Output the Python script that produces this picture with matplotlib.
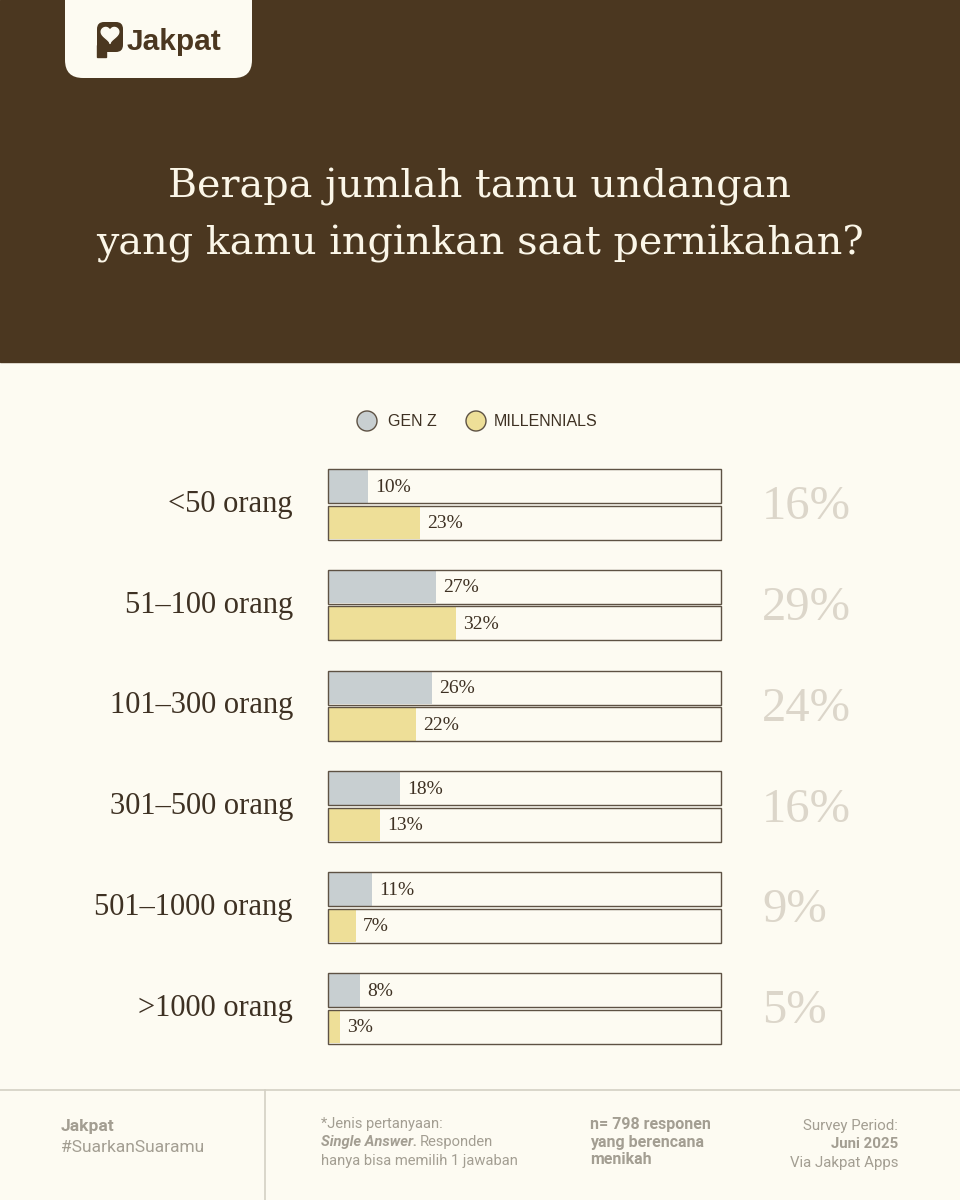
import matplotlib.pyplot as plt
from matplotlib.patches import FancyBboxPatch, Circle, Rectangle
import numpy as np

categories = ["<50 orang", "51\u2013100 orang", "101\u2013300 orang",
              "301\u2013500 orang", "501\u20131000 orang", ">1000 orang"]
gen_z = [10, 27, 26, 18, 11, 8]
millennials = [23, 32, 22, 13, 7, 3]
total = [16, 29, 24, 16, 9, 5]

BROWN = "#4B3720"
BG = "#FDFBF2"
GENZ_C = "#C8CFD1"
MIL_C = "#EEDF98"
EDGE = "#5E5244"
DARK = "#3E3123"
GREY_BIG = "#DCD6CA"
FOOT = "#A39E92"

SERIF = ["Liberation Serif", "DejaVu Serif"]
SANS = ["Liberation Sans", "DejaVu Sans"]
NARROW = ["Roboto", "DejaVu Sans"]

fig = plt.figure(figsize=(9.6, 12), dpi=100)
fig.patch.set_facecolor(BG)

# overlay axes in pixel coordinates
ov = fig.add_axes([0, 0, 1, 1])
ov.set_xlim(0, 960)
ov.set_ylim(1200, 0)
ov.axis("off")

# header
ov.add_patch(Rectangle((0, 0), 960, 362, color=BROWN, zorder=0))
ov.add_patch(FancyBboxPatch((65, -40), 187, 118, boxstyle="round,pad=0,rounding_size=18",
                            fc=BG, ec="none", zorder=1))
# logo icon
ov.add_patch(FancyBboxPatch((97, 22), 26, 30, boxstyle="round,pad=0,rounding_size=7",
                            fc=BROWN, ec="none", zorder=2))
ov.add_patch(Rectangle((97, 45), 9, 12, color=BROWN, zorder=2))
t = np.linspace(0, 2 * np.pi, 100)
hx = 110 + 0.55 * 16 * np.sin(t) ** 3
hy = 34 - 0.55 * (13 * np.cos(t) - 5 * np.cos(2 * t) - 2 * np.cos(3 * t) - np.cos(4 * t))
ov.fill(hx, hy, color=BG, zorder=3)
ov.text(127, 42, "Jakpat", fontsize=21.5, fontweight="bold", color=BROWN,
        family=SANS, va="center", ha="left", zorder=3)

ov.text(480, 187, "Berapa jumlah tamu undangan", fontsize=28.5, color="#FBF6E8",
        family=["DejaVu Serif"], ha="center", va="center")
ov.text(480, 244, "yang kamu inginkan saat pernikahan?", fontsize=28.5, color="#FBF6E8",
        family=["DejaVu Serif"], ha="center", va="center")

# legend
ov.add_patch(Circle((367, 421), 10, fc=GENZ_C, ec=EDGE, lw=1))
ov.text(388, 422, "GEN Z", fontsize=11.5, color=DARK, family=SANS, va="center")
ov.add_patch(Circle((476, 421), 10, fc=MIL_C, ec=EDGE, lw=1))
ov.text(494, 422, "MILLENNIALS", fontsize=11.5, color=DARK, family=SANS, va="center")

# bars axes
top_px, bot_px = 469, 1044
ax = fig.add_axes([328 / 960, 1 - bot_px / 1200, (721 - 328) / 960, (bot_px - top_px) / 1200])
ax.set_xlim(0, 98.25)
ax.set_ylim(bot_px, top_px)
ax.axis("off")

step = 100.8
h = 34
idx = np.arange(len(categories))
y_gz = top_px + 17 + idx * step
y_mil = y_gz + 36.5

ax.barh(y_gz, gen_z, height=h - 1, color=GENZ_C, zorder=2)
ax.barh(y_mil, millennials, height=h - 1, color=MIL_C, zorder=2)
frames = [ax.barh(y_gz, [98.25] * len(idx), height=h, fill=False, ec=EDGE, lw=1, zorder=3),
          ax.barh(y_mil, [98.25] * len(idx), height=h, fill=False, ec=EDGE, lw=1, zorder=3)]
for fr in frames:
    for p in fr.patches:
        p.set_clip_on(False)

for i in idx:
    ax.text(gen_z[i] + 1.7, y_gz[i] + 1, f"{gen_z[i]}%", fontsize=14, color=DARK,
            family=SERIF, va="center", zorder=4)
    ax.text(millennials[i] + 1.7, y_mil[i] + 1, f"{millennials[i]}%", fontsize=14, color=DARK,
            family=SERIF, va="center", zorder=4)
    yc = (y_gz[i] + y_mil[i]) / 2
    ov.text(293, yc, categories[i], fontsize=22, color=DARK, family=SERIF,
            ha="right", va="center")
    ov.text(762, yc + 3, f"{total[i]}%", fontsize=35, color=GREY_BIG, family=SERIF,
            ha="left", va="center")

# footer
ov.plot([0, 960], [1090, 1090], color="#D4D0C4", lw=1.2)
ov.plot([265, 265], [1090, 1200], color="#D4D0C4", lw=1.2)
ov.text(61, 1127, "Jakpat", fontsize=12.5, fontweight="bold", color=FOOT, family=NARROW, va="center")
ov.text(61, 1147, "#SuarkanSuaramu", fontsize=12.5, color=FOOT, family=NARROW, va="center")
ov.text(321, 1124, "*Jenis pertanyaan:", fontsize=10.6, color=FOOT, family=NARROW, va="center")
ov.text(321, 1142, "Single Answer.", fontsize=10.6, color=FOOT, family=NARROW, va="center",
        fontweight="bold", style="italic")
ov.text(420, 1142, "Responden", fontsize=10.6, color=FOOT, family=NARROW, va="center")
ov.text(321, 1161, "hanya bisa memilih 1 jawaban", fontsize=10.6, color=FOOT, family=NARROW, va="center")
ov.text(590, 1125, "n= 798 responen", fontsize=11.5, fontweight="bold", color=FOOT, family=NARROW, va="center")
ov.text(590, 1143, "yang berencana", fontsize=11.5, fontweight="bold", color=FOOT, family=NARROW, va="center")
ov.text(590, 1160, "menikah", fontsize=11.5, fontweight="bold", color=FOOT, family=NARROW, va="center")
ov.text(898, 1126, "Survey Period:", fontsize=10.8, color=FOOT, family=NARROW, va="center", ha="right")
ov.text(898, 1144, "Juni 2025", fontsize=10.8, fontweight="bold", color=FOOT, family=NARROW, va="center", ha="right")
ov.text(898, 1163, "Via Jakpat Apps", fontsize=10.8, color=FOOT, family=NARROW, va="center", ha="right")

fig.savefig("out.png", dpi=100, facecolor=BG)
